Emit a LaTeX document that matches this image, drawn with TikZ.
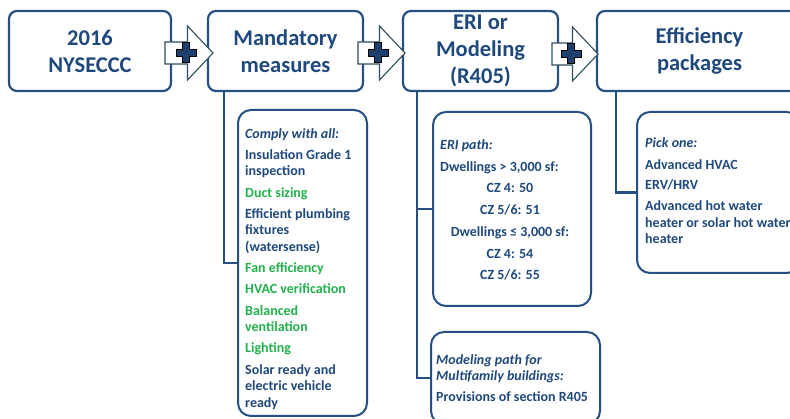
\documentclass[tikz,border=0pt]{standalone}
\usepackage{fontspec}
\setmainfont{Carlito}
\definecolor{txtblue}{HTML}{1F497D}
\definecolor{edgeblue}{HTML}{264F82}
\definecolor{grn}{HTML}{22B14C}
\definecolor{arrowedge}{HTML}{2F4F5F}
\definecolor{plusblue}{HTML}{1F3F6F}
\newcommand{\PlusArrow}[3]{%
  \filldraw[arrowbody] ({#1},{#3-11}) -- ({#2-25.5},{#3-11}) -- ({#2-25.5},{#3-27}) -- ({#2},{#3})
    -- ({#2-25.5},{#3+27}) -- ({#2-25.5},{#3+11}) -- ({#1},{#3+11}) -- cycle;
  \filldraw[plusmark,shift={({#2-27},{#3})}] (-3.8,-10) -- (3.8,-10) -- (3.8,-3.8) -- (10,-3.8)
    -- (10,3.8) -- (3.8,3.8) -- (3.8,10) -- (-3.8,10) -- (-3.8,3.8) -- (-10,3.8) -- (-10,-3.8)
    -- (-3.8,-3.8) -- cycle;
}
\begin{document}
\begin{tikzpicture}[x=1pt,y=-1pt,
  titlebox/.style={draw=edgeblue,line width=2.2pt,rounded corners=8pt,fill=white,
    minimum height=80pt,align=center,text=txtblue,
    font=\fontsize{22.5}{27}\selectfont\bfseries,inner sep=0pt},
  subbox/.style={draw=edgeblue,line width=2pt,rounded corners=13pt,fill=white,inner sep=0pt},
  body/.style={text=txtblue,inner sep=0pt,font=\fontsize{14}{16.5}\selectfont\bfseries},
  conn/.style={draw=edgeblue,line width=2.3pt},
  arrowbody/.style={draw=arrowedge,fill=white,line width=1.1pt,line join=miter},
  plusmark/.style={draw=black,fill=plusblue,line width=1pt}]
\useasboundingbox (0,0) rectangle (790,419);

% title boxes
\node[titlebox,minimum width=162pt] (t1) at (90,51) {2016\\NYSECCC};
\node[titlebox,minimum width=155pt] (t2) at (285.5,51) {Mandatory\\measures};
\node[titlebox,minimum width=155pt] (t3) at (480.5,51) {ERI or\\Modeling\\(R405)};
\node[titlebox,minimum width=205pt] (t4) at (699.5,51) {Efficiency\\packages};

% sub boxes
\node[subbox,minimum width=129pt,minimum height=306pt] (mand) at (302.5,263) {};
\node[subbox,minimum width=158pt,minimum height=194pt] (eri) at (512,209) {};
\node[subbox,minimum width=169pt,minimum height=92pt] (model) at (515.5,378) {};
\node[subbox,minimum width=163pt,minimum height=161pt] (eff) at (718.5,192.5) {};

% connectors
\draw[conn] ([xshift=17pt]t2.south west) |- (mand.west);
\draw[conn] ([xshift=15pt]t3.south west) |- (model.west);
\draw[conn] ([xshift=15pt]t3.south west |- eri.west) -- (eri.west);
\draw[conn] ([xshift=20pt]t4.south west) |- (eff.west);

% arrows with plus signs
\PlusArrow{165}{213}{53}
\PlusArrow{358}{405}{53}
\PlusArrow{552}{598}{54}

% texts
\node[body,align=left,anchor=north west] (mandtxt) at (245,128) {%
  \itshape Comply with all:\\[4.75pt]
  Insulation Grade 1\\ inspection\\[4.75pt]
  \textcolor{grn}{Duct sizing}\\[4.75pt]
  Efficient plumbing\\ fixtures\\ (watersense)\\[4.75pt]
  \textcolor{grn}{Fan efficiency}\\[4.75pt]
  \textcolor{grn}{HVAC verification}\\[4.75pt]
  \textcolor{grn}{Balanced}\\ \textcolor{grn}{ventilation}\\[4.75pt]
  \textcolor{grn}{Lighting}\\[4.75pt]
  Solar ready and\\ electric vehicle\\ ready};

\node[body,align=left,anchor=north west,font=\fontsize{14}{22}\selectfont\bfseries] (eritxta) at (440,139.5) {%
  \itshape ERI path:\\ Dwellings > 3,000 sf:};
\node[body,align=center,anchor=north,font=\fontsize{14}{21.75}\selectfont\bfseries] (eritxtb) at (510,183.5) {%
  CZ 4: 50\\ CZ 5/6: 51\\ Dwellings ≤ 3,000 sf:\\ CZ 4: 54\\ CZ 5/6: 55};

\node[body,align=left,anchor=north west,font=\fontsize{14}{15.5}\selectfont\bfseries] (modeltxt) at (436,354.5) {%
  \itshape Modeling path for\\ \itshape Multifamily buildings:\\[5.5pt]
  Provisions of section R405};

\node[body,align=left,anchor=north west] (efftxt) at (645,137.5) {%
  \itshape Pick one:\\[5pt]
  Advanced HVAC\\[4pt]
  ERV/HRV\\[4.5pt]
  Advanced hot water\\ heater or solar hot water\\ heater};
\end{tikzpicture}
\end{document}
